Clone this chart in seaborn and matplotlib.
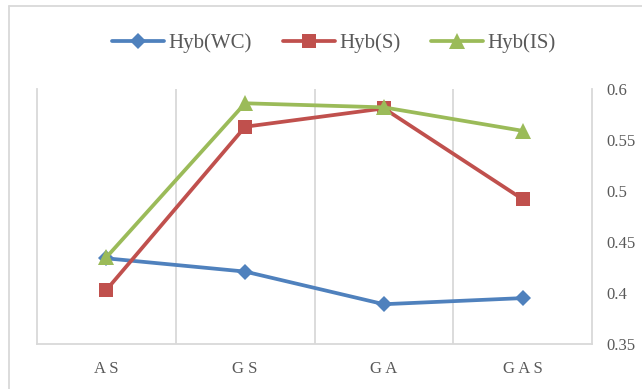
import matplotlib
matplotlib.use("Agg")
import matplotlib.pyplot as plt
from matplotlib.lines import Line2D
from matplotlib.ticker import FuncFormatter, FixedLocator
import seaborn as sns
import pandas as pd

# Data
categories = ["AS", "GS", "GA", "GAS"]
hyb_wc = [0.434, 0.421, 0.389, 0.395]
hyb_s = [0.403, 0.563, 0.581, 0.492]
hyb_is = [0.435, 0.586, 0.582, 0.559]
series_names = ["Hyb(WC)", "Hyb(S)", "Hyb(IS)"]

df = pd.DataFrame({
    "category": categories * 3,
    "value": hyb_wc + hyb_s + hyb_is,
    "series": [series_names[0]] * 4 + [series_names[1]] * 4 + [series_names[2]] * 4,
})

sns.set_theme(style="white")
plt.rcParams["font.family"] = ["Liberation Serif", "DejaVu Serif"]

colors = {"Hyb(WC)": "#4F81BD", "Hyb(S)": "#C0504D", "Hyb(IS)": "#9BBB59"}
markers = {"Hyb(WC)": "D", "Hyb(S)": "s", "Hyb(IS)": "^"}
msizes = {"Hyb(WC)": 8.5, "Hyb(S)": 10.5, "Hyb(IS)": 12}
grid_col = "#D9D9D9"
text_col = "#595959"
line_w = 2.7

fig = plt.figure(figsize=(6.42, 3.89), dpi=100)
ax = fig.add_axes([37 / 642, 45 / 389, 555 / 642, 255 / 389])

for name in series_names:
    sub = df[df["series"] == name]
    sns.lineplot(data=sub, x="category", y="value", ax=ax, sort=False,
                 color=colors[name], marker=markers[name],
                 markersize=msizes[name], markeredgewidth=0,
                 linewidth=line_w, label=name, legend=False)

ax.set_xlim(-0.5, 3.5)
ax.set_ylim(0.35, 0.6)
ax.set_xlabel("")
ax.set_ylabel("")

# category labels, with vertical grid lines between categories
ax.set_xticks(range(len(categories)))
ax.set_xticklabels([" ".join(c) for c in categories])
ax.xaxis.set_minor_locator(FixedLocator([0.5, 1.5, 2.5]))
ax.grid(False)
ax.grid(which="minor", axis="x", color=grid_col, linewidth=1.3)
ax.tick_params(axis="x", which="both", length=0, pad=12, labelsize=12,
               labelcolor=text_col)

# value axis on the right
ax.yaxis.tick_right()
ax.set_yticks([0.35, 0.4, 0.45, 0.5, 0.55, 0.6])
ax.yaxis.set_major_formatter(FuncFormatter(lambda v, p: f"{v:g}"))
ax.tick_params(axis="y", length=0, pad=10, labelsize=12, labelcolor=text_col)

for side in ["left", "right", "bottom"]:
    ax.spines[side].set_color(grid_col)
    ax.spines[side].set_linewidth(1.3)
ax.spines["top"].set_visible(False)

# legend across the top
handles = [Line2D([0], [0], color=colors[n], marker=markers[n],
                  markersize=msizes[n], markeredgewidth=0, linewidth=line_w)
           for n in series_names]
leg = fig.legend(handles, series_names, loc="center", ncol=3,
                 bbox_to_anchor=(0.52, 0.889), frameon=False, fontsize=15,
                 handlelength=2.5, handletextpad=0.2, columnspacing=1.5)
for t in leg.get_texts():
    t.set_color(text_col)

# chart-area border (top and left edges)
fig.add_artist(Line2D([9 / 642, 9 / 642], [0, 383 / 389],
                      transform=fig.transFigure, color=grid_col, linewidth=1.3))
fig.add_artist(Line2D([9 / 642, 1], [383 / 389, 383 / 389],
                      transform=fig.transFigure, color=grid_col, linewidth=1.3))

fig.savefig("out.png", dpi=100)
